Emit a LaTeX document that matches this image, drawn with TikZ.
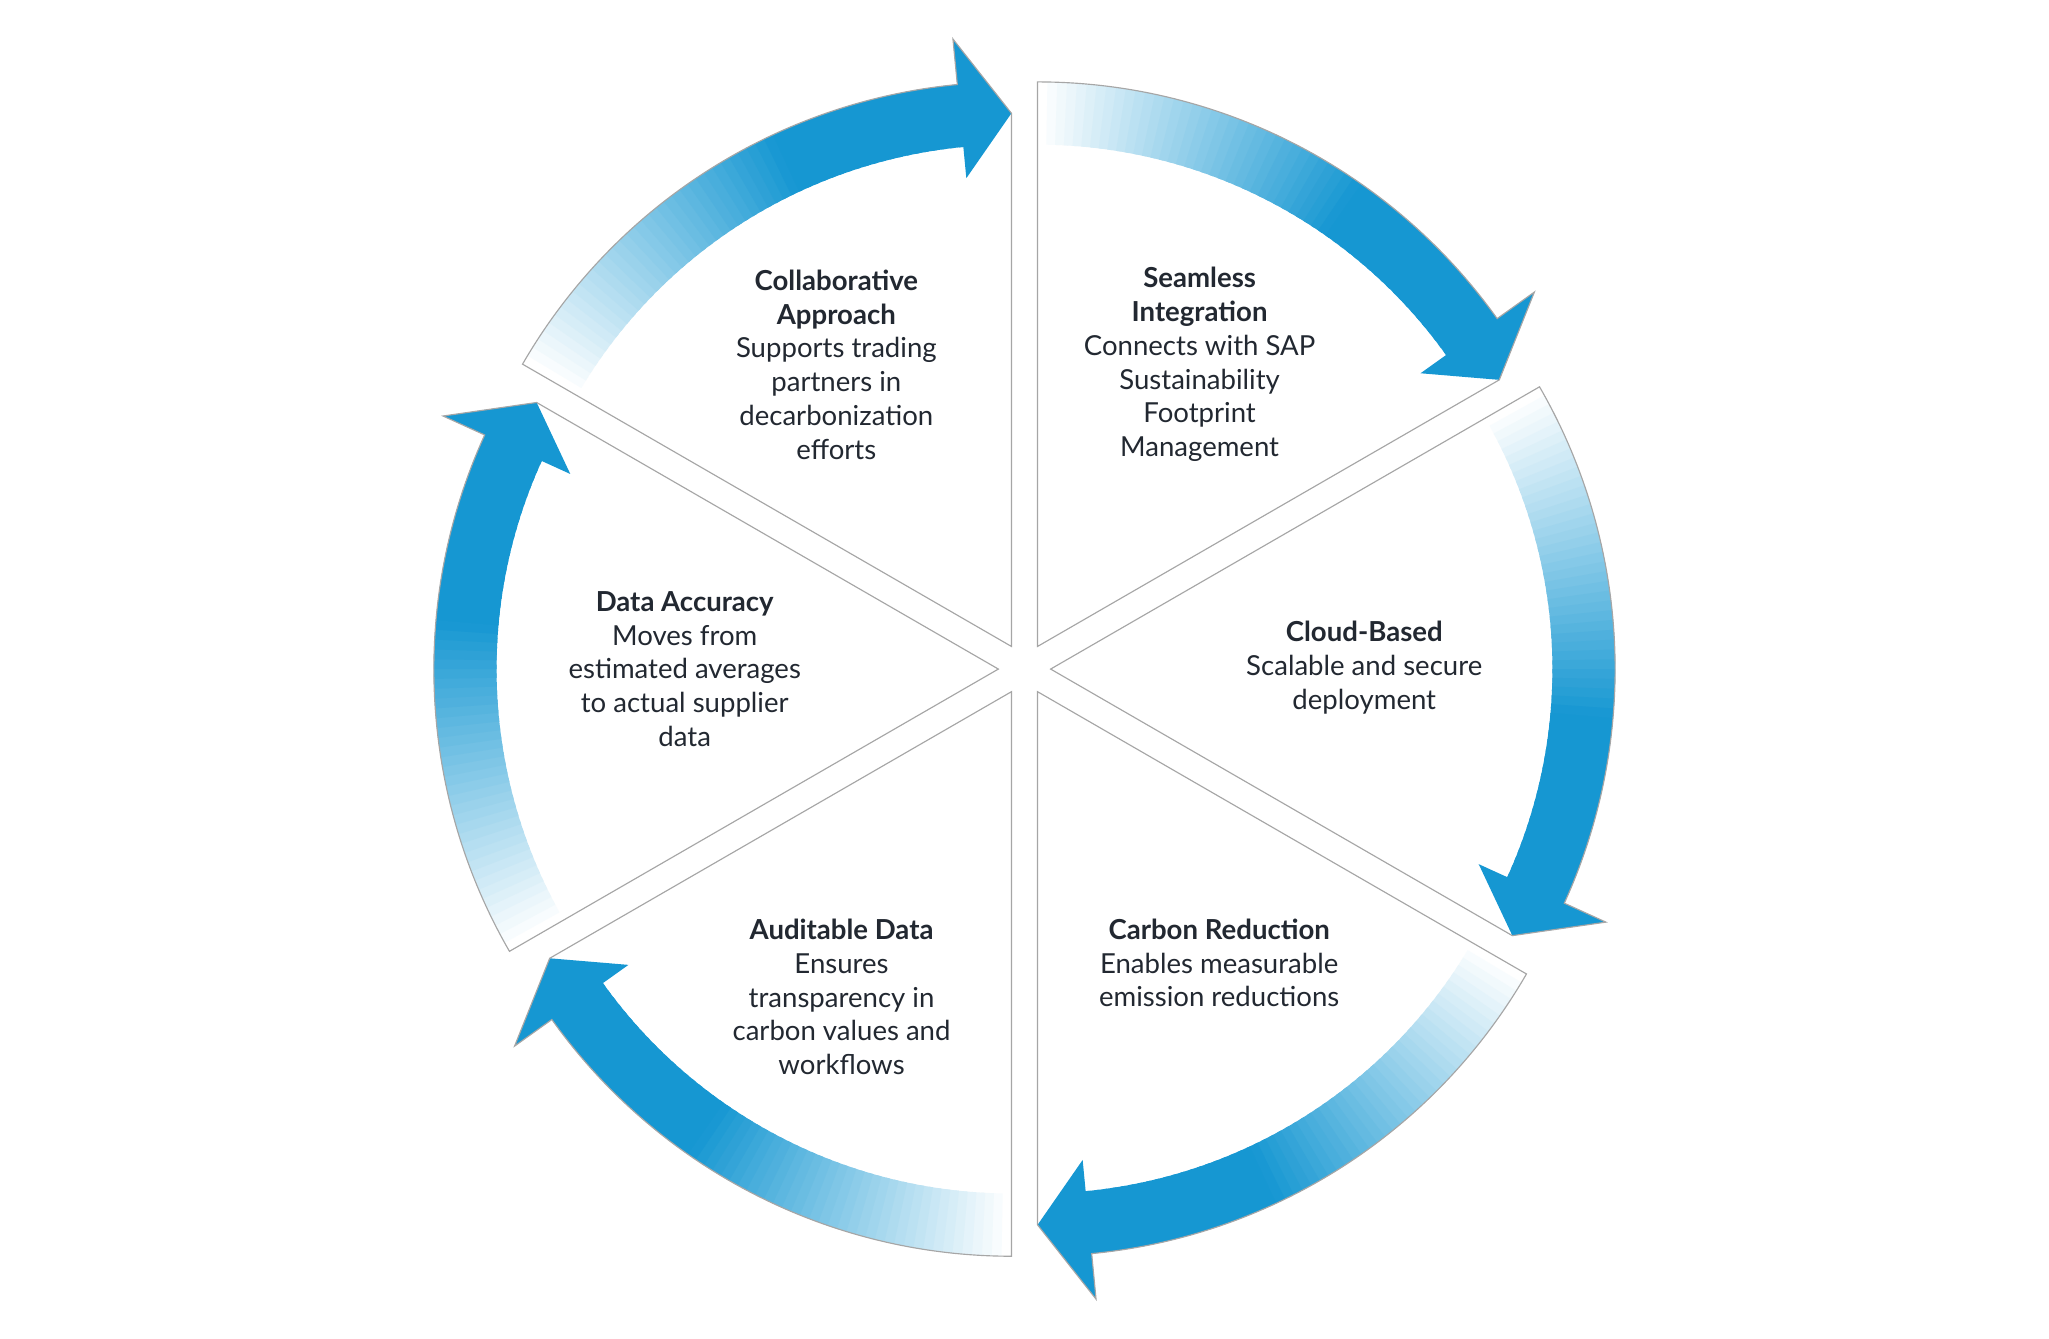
\documentclass[tikz,border=0pt]{standalone}
\usepackage{fontspec}
\setmainfont{Lato}
\definecolor{arrowblue}{HTML}{1697D2}
\definecolor{textdark}{HTML}{222831}
\begin{document}
\begin{tikzpicture}[
    x=0.2mm, y=0.2mm,
    wedge/.style={
        draw=gray!70,
        line width=0.5pt
    },
    label/.style={
        align=center,
        font=\fontsize{12}{14.7}\selectfont,
        text=textdark
    }
]
\useasboundingbox (-784,-512) rectangle (784,512);

% Sektoren mit Pfeilen
\foreach \s/\b in {90/60,30/0,-30/-60,-90/-120,-150/-180,150/120}{
  \begin{scope}[shift={(\b:20)}]
    \pgfmathsetmacro\e{\s-60}
    \fill[white] (0,0) -- (\s:432) arc[start angle=\s, end angle=\e+5.5, radius=432]
      -- ({\e+5.5}:467) -- (\e:408) -- cycle;
    \foreach \i in {0,...,54}{
      \pgfmathsetmacro\a{\s-\i}
      \pgfmathsetmacro\p{min(100,\i*2.9)}
      \fill[arrowblue!\p!white] (\a:384) arc[start angle=\a, end angle=\a-1.5, radius=384]
        -- ({\a-1.5}:432) arc[start angle=\a-1.5, end angle=\a, radius=432] -- cycle;
    }
    \fill[arrowblue] ({\e+5.5}:467) -- (\e:408) -- ({\e+5.5}:360) -- cycle;
    \draw[wedge] (0,0) -- (\s:432) arc[start angle=\s, end angle=\e+5.5, radius=432]
      -- ({\e+5.5}:467) -- (\e:408) -- cycle;
  \end{scope}
}

% Texte
\node[label] (collab) at (-144,233) {\textbf{Collaborative}\\\textbf{Approach}\\Supports trading\\partners in\\decarbonization\\efforts};
\node[label] (seamless) at (134,233) {\textbf{Seamless}\\\textbf{Integration}\\Connects with SAP\\Sustainability\\Footprint\\Management};
\node[label] (cloud) at (260,1) {\textbf{Cloud-Based}\\Scalable and secure\\deployment};
\node[label] (carbon) at (149,-225) {\textbf{Carbon Reduction}\\Enables measurable\\emission reductions};
\node[label] (audit) at (-140,-251) {\textbf{Auditable Data}\\Ensures\\transparency in\\carbon values and\\workflows};
\node[label] (accuracy) at (-260,0) {\textbf{Data Accuracy}\\Moves from\\estimated averages\\to actual supplier\\data};

\end{tikzpicture}
\end{document}
